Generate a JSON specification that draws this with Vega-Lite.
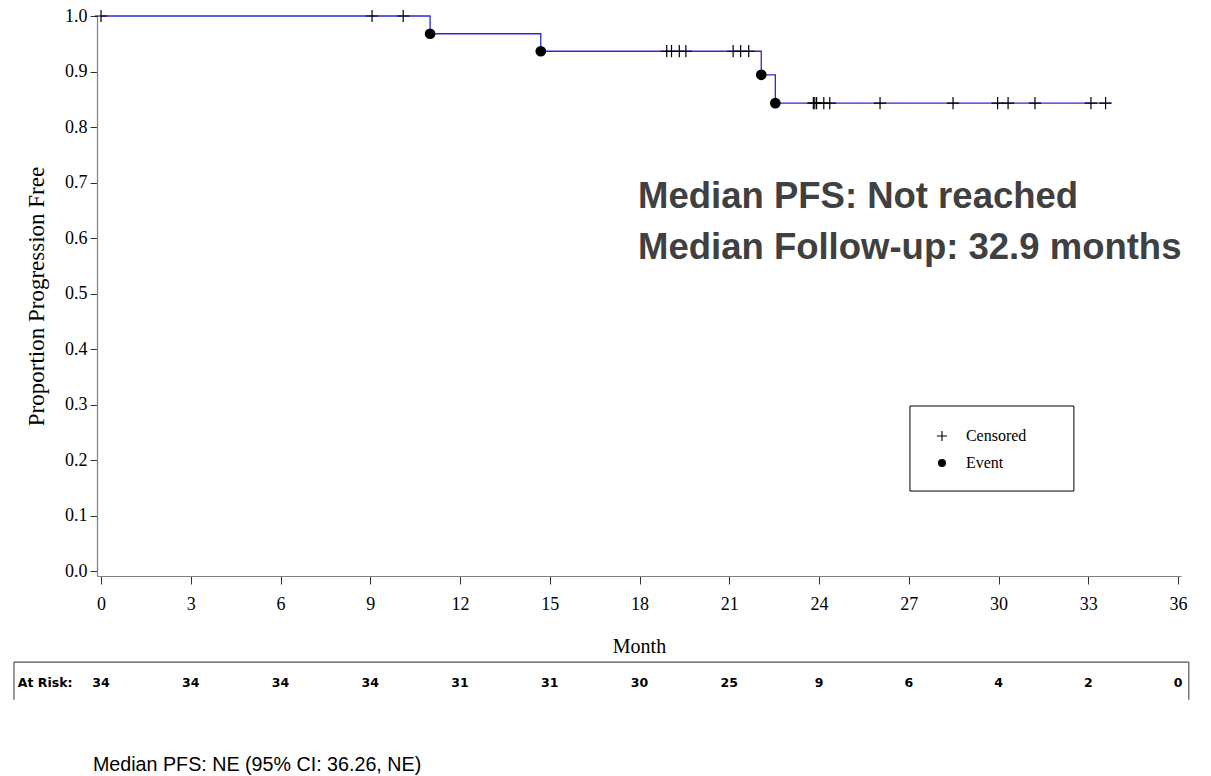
{
  "$schema": "https://vega.github.io/schema/vega-lite/v6.json",
  "width": 1084,
  "height": 560,
  "autosize": {"type": "none"},
  "padding": {"left": 97, "top": 16, "right": 30, "bottom": 200},
  "background": "white",
  "config": {
    "view": {"stroke": null},
    "axis": {"grid": false}
  },
  "datasets": {
    "curve": [
      {"month": 0, "surv": 1.0},
      {"month": 11.0, "surv": 0.968},
      {"month": 14.7, "surv": 0.9365},
      {"month": 22.07, "surv": 0.894},
      {"month": 22.54, "surv": 0.843},
      {"month": 33.75, "surv": 0.843}
    ],
    "marks": [
      {"month": 0.0, "surv": 1.0, "status": "Censored"},
      {"month": 9.06, "surv": 1.0, "status": "Censored"},
      {"month": 10.1, "surv": 1.0, "status": "Censored"},
      {"month": 18.91, "surv": 0.9365, "status": "Censored"},
      {"month": 19.07, "surv": 0.9365, "status": "Censored"},
      {"month": 19.33, "surv": 0.9365, "status": "Censored"},
      {"month": 19.55, "surv": 0.9365, "status": "Censored"},
      {"month": 21.13, "surv": 0.9365, "status": "Censored"},
      {"month": 21.38, "surv": 0.9365, "status": "Censored"},
      {"month": 21.65, "surv": 0.9365, "status": "Censored"},
      {"month": 23.81, "surv": 0.843, "status": "Censored"},
      {"month": 23.86, "surv": 0.843, "status": "Censored"},
      {"month": 23.92, "surv": 0.843, "status": "Censored"},
      {"month": 24.16, "surv": 0.843, "status": "Censored"},
      {"month": 24.36, "surv": 0.843, "status": "Censored"},
      {"month": 26.04, "surv": 0.843, "status": "Censored"},
      {"month": 28.48, "surv": 0.843, "status": "Censored"},
      {"month": 29.97, "surv": 0.843, "status": "Censored"},
      {"month": 30.32, "surv": 0.843, "status": "Censored"},
      {"month": 31.22, "surv": 0.843, "status": "Censored"},
      {"month": 33.09, "surv": 0.843, "status": "Censored"},
      {"month": 33.58, "surv": 0.843, "status": "Censored"},
      {"month": 11.0, "surv": 0.968, "status": "Event"},
      {"month": 14.7, "surv": 0.9365, "status": "Event"},
      {"month": 22.07, "surv": 0.894, "status": "Event"},
      {"month": 22.54, "surv": 0.843, "status": "Event"}
    ],
    "atrisk": [
      {"month": 0, "n": 34},
      {"month": 3, "n": 34},
      {"month": 6, "n": 34},
      {"month": 9, "n": 34},
      {"month": 12, "n": 31},
      {"month": 15, "n": 31},
      {"month": 18, "n": 30},
      {"month": 21, "n": 25},
      {"month": 24, "n": 9},
      {"month": 27, "n": 6},
      {"month": 30, "n": 4},
      {"month": 33, "n": 2},
      {"month": 36, "n": 0}
    ]
  },
  "layer": [
    {
      "data": {"name": "curve"},
      "mark": {"type": "line", "interpolate": "step-after", "color": "#2a2ad8", "strokeWidth": 1.3},
      "encoding": {
        "x": {
          "field": "month", "type": "quantitative",
          "scale": {"domain": [-0.134, 36.1], "nice": false, "zero": false},
          "axis": {
            "values": [0, 3, 6, 9, 12, 15, 18, 21, 24, 27, 30, 33, 36],
            "title": "Month",
            "titleFont": "Liberation Serif", "titleFontSize": 20, "titleFontWeight": "normal", "titleColor": "black",
            "titlePadding": 23,
            "labelFont": "Liberation Serif", "labelFontSize": 18, "labelColor": "black",
            "labelPadding": 11,
            "tickSize": 8, "tickColor": "#333333",
            "domainColor": "#808080", "domainWidth": 1.2
          }
        },
        "y": {
          "field": "surv", "type": "quantitative",
          "scale": {"domain": [-0.009, 1.0], "nice": false, "zero": false},
          "axis": {
            "values": [0, 0.1, 0.2, 0.3, 0.4, 0.5, 0.6, 0.7, 0.8, 0.9, 1.0],
            "format": ".1f",
            "title": "Proportion Progression Free",
            "titleFont": "Liberation Serif", "titleFontSize": 23, "titleFontWeight": "normal", "titleColor": "black",
            "titlePadding": 16,
            "labelFont": "Liberation Serif", "labelFontSize": 18, "labelColor": "black",
            "labelPadding": 3,
            "tickSize": 7, "tickColor": "#333333",
            "domainColor": "#808080", "domainWidth": 1.2
          }
        }
      }
    },
    {
      "data": {"name": "marks"},
      "transform": [{"filter": "datum.status === 'Censored'"}],
      "mark": {"type": "point", "shape": "M0,-1V1M-1,0H1", "size": 150, "filled": false, "color": "black", "strokeWidth": 1.2, "opacity": 1},
      "encoding": {
        "x": {"field": "month", "type": "quantitative"},
        "y": {"field": "surv", "type": "quantitative"}
      }
    },
    {
      "data": {"name": "marks"},
      "transform": [{"filter": "datum.status === 'Event'"}],
      "mark": {"type": "point", "shape": "circle", "size": 115, "filled": true, "color": "black", "opacity": 1},
      "encoding": {
        "x": {"field": "month", "type": "quantitative"},
        "y": {"field": "surv", "type": "quantitative"}
      }
    },
    {
      "data": {"values": [{"item": "legend box"}]},
      "mark": {"type": "rect", "fill": "white", "stroke": "black", "strokeWidth": 1},
      "encoding": {
        "x": {"datum": 27.04},
        "x2": {"datum": 32.52},
        "y": {"datum": 0.2973},
        "y2": {"datum": 0.1441}
      }
    },
    {
      "data": {"values": [{"status": "Censored"}]},
      "mark": {"type": "point", "shape": "M0,-1V1M-1,0H1", "size": 100, "filled": false, "color": "black", "strokeWidth": 1.1, "opacity": 1},
      "encoding": {
        "x": {"datum": 28.11},
        "y": {"datum": 0.2432}
      }
    },
    {
      "data": {"values": [{"status": "Event"}]},
      "mark": {"type": "point", "shape": "circle", "size": 65, "filled": true, "color": "black", "opacity": 1},
      "encoding": {
        "x": {"datum": 28.11},
        "y": {"datum": 0.1946}
      }
    },
    {
      "data": {"values": [{"status": "Censored"}]},
      "mark": {"type": "text", "font": "Liberation Serif", "fontSize": 16, "color": "black", "align": "left", "baseline": "middle"},
      "encoding": {
        "x": {"datum": 28.91},
        "y": {"datum": 0.2432},
        "text": {"field": "status"}
      }
    },
    {
      "data": {"values": [{"status": "Event"}]},
      "mark": {"type": "text", "font": "Liberation Serif", "fontSize": 16, "color": "black", "align": "left", "baseline": "middle"},
      "encoding": {
        "x": {"datum": 28.91},
        "y": {"datum": 0.1946},
        "text": {"field": "status"}
      }
    },
    {
      "data": {"name": "atrisk"},
      "mark": {"type": "text", "font": "DejaVu Sans", "fontWeight": "bold", "fontSize": 12.5, "color": "black", "baseline": "middle"},
      "encoding": {
        "x": {"field": "month", "type": "quantitative"},
        "y": {"datum": -0.202},
        "text": {"field": "n", "type": "quantitative"}
      }
    },
    {
      "data": {"values": [{"label": "At Risk:"}]},
      "mark": {"type": "text", "font": "DejaVu Sans", "fontWeight": "bold", "fontSize": 12.5, "color": "black", "align": "left", "baseline": "middle"},
      "encoding": {
        "x": {"datum": -2.78},
        "y": {"datum": -0.202},
        "text": {"field": "label"}
      }
    },
    {
      "data": {"values": [{"edge": "top"}]},
      "mark": {"type": "rule", "color": "#555555", "strokeWidth": 1.2},
      "encoding": {
        "x": {"datum": -2.91},
        "x2": {"datum": 36.36},
        "y": {"datum": -0.164}
      }
    },
    {
      "data": {"values": [{"edge": "left"}]},
      "mark": {"type": "rule", "color": "#555555", "strokeWidth": 1.2},
      "encoding": {
        "x": {"datum": -2.91},
        "y": {"datum": -0.164},
        "y2": {"datum": -0.232}
      }
    },
    {
      "data": {"values": [{"edge": "right"}]},
      "mark": {"type": "rule", "color": "#555555", "strokeWidth": 1.2},
      "encoding": {
        "x": {"datum": 36.36},
        "y": {"datum": -0.164},
        "y2": {"datum": -0.232}
      }
    },
    {
      "data": {"values": [{"note": "annotation"}]},
      "mark": {
        "type": "text",
        "text": ["Median PFS: Not reached", "Median Follow-up: 32.9 months"],
        "font": "Liberation Sans", "fontWeight": "bold", "fontSize": 36.5,
        "lineHeight": 51, "color": "#404040", "align": "left", "baseline": "alphabetic"
      },
      "encoding": {
        "x": {"datum": 17.95},
        "y": {"datum": 0.654}
      }
    },
    {
      "data": {"values": [{"note": "footnote"}]},
      "mark": {
        "type": "text",
        "text": "Median PFS: NE (95% CI: 36.26, NE)",
        "font": "Liberation Sans", "fontSize": 19.7, "color": "black",
        "align": "left", "baseline": "middle"
      },
      "encoding": {
        "x": {"datum": -0.27},
        "y": {"datum": -0.3495}
      }
    }
  ]
}
